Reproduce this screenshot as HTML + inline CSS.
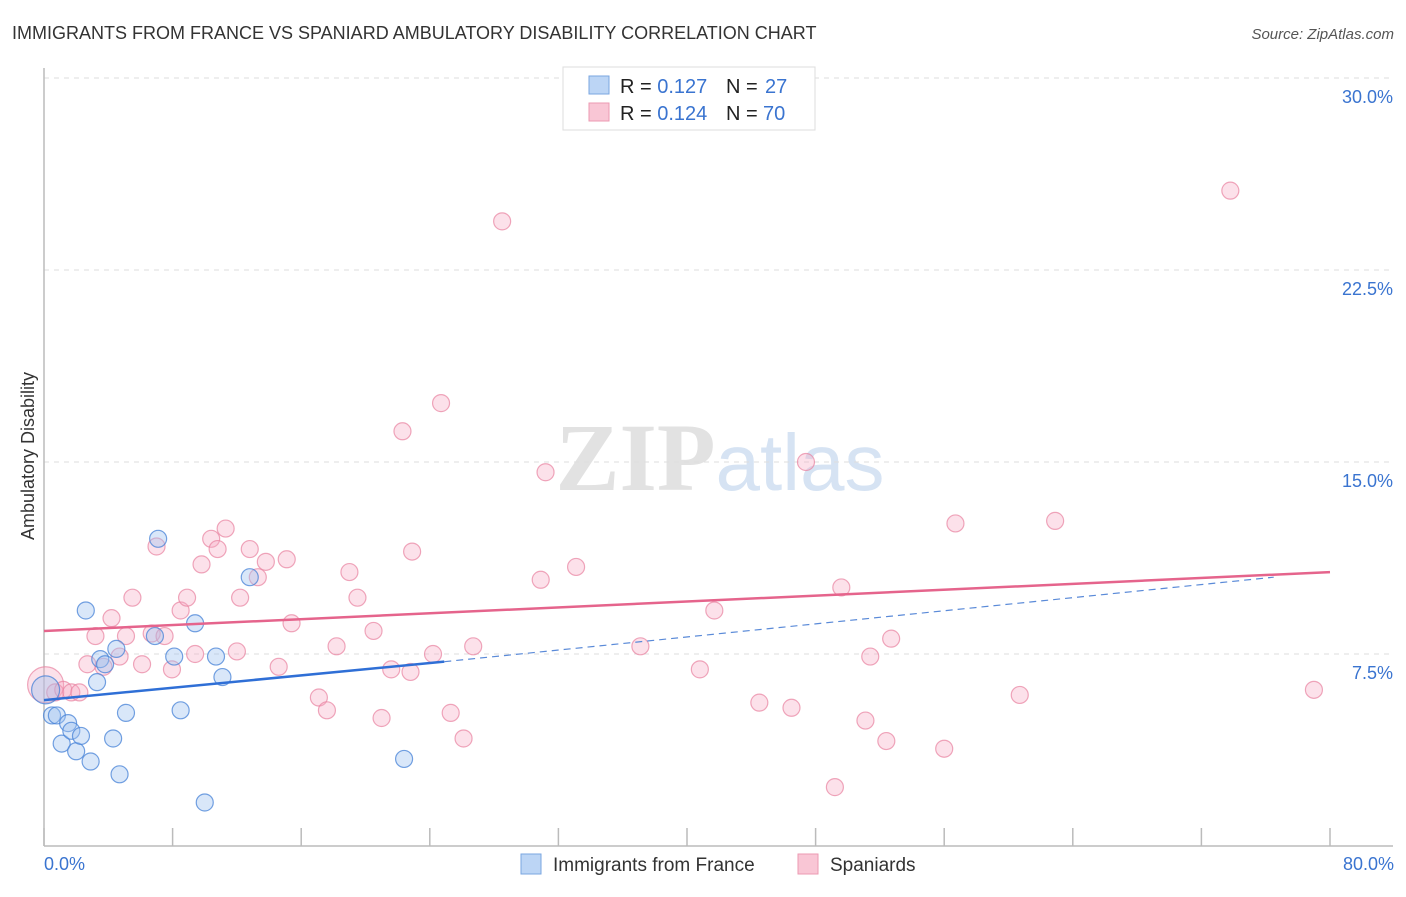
<!DOCTYPE html>
<html><head><meta charset="utf-8"><style>
body{margin:0;background:#fff;font-family:"Liberation Sans",sans-serif;}
svg text{font-family:"Liberation Sans",sans-serif;}
</style></head><body>
<svg id="chart" width="1406" height="892" xmlns="http://www.w3.org/2000/svg">
<text x="12" y="39" font-size="18" fill="#333">IMMIGRANTS FROM FRANCE VS SPANIARD AMBULATORY DISABILITY CORRELATION CHART</text>
<text x="1394" y="39" font-size="15" fill="#555" font-style="italic" text-anchor="end">Source: ZipAtlas.com</text>
<text x="720" y="490" font-size="96" fill="#e2e2e2" text-anchor="middle"><tspan font-family="Liberation Serif" font-weight="bold">ZIP</tspan><tspan fill="#d6e3f3" font-size="80">atlas</tspan></text>
<g id="grid"></g>
<line x1="44" y1="68" x2="44" y2="846" stroke="#bbb" stroke-width="1.5"/>
<line x1="44" y1="846" x2="1393" y2="846" stroke="#bbb" stroke-width="1.5"/>
<text transform="translate(34,456) rotate(-90)" font-size="18" fill="#333" text-anchor="middle">Ambulatory Disability</text>
<text x="44" y="870" font-size="18" fill="#3a74d0">0.0%</text>
<text x="1394" y="870" font-size="18" fill="#3a74d0" text-anchor="end">80.0%</text>
<g id="points"></g>
<g id="lines"></g>
<g>
<rect x="563" y="67" width="252" height="63" fill="#fff" stroke="#ddd"/>
<rect x="589" y="76" width="20" height="18" fill="#bcd5f5" stroke="#7aa6e0"/>
<rect x="589" y="103" width="20" height="18" fill="#f9c6d5" stroke="#ec9ab2"/>
<text x="620" y="93" font-size="20" fill="#222">R = <tspan fill="#3a74d0">0.127</tspan><tspan x="726">N = </tspan><tspan fill="#3a74d0" x="765">27</tspan></text>
<text x="620" y="120" font-size="20" fill="#222">R = <tspan fill="#3a74d0">0.124</tspan><tspan x="726">N = </tspan><tspan fill="#3a74d0" x="763">70</tspan></text>
</g>
<g>
<rect x="521" y="854" width="20" height="20" fill="#bcd5f5" stroke="#7aa6e0"/>
<text x="553" y="871" font-size="19" fill="#333">Immigrants from France</text>
<rect x="798" y="854" width="20" height="20" fill="#f9c6d5" stroke="#ec9ab2"/>
<text x="830" y="871" font-size="19" fill="#333">Spaniards</text>
</g>
</svg>
<script>
const yTicks=[7.5,15,22.5,30];
const xTicks=[0,8,16,24,32,40,48,56,64,72,80];
const blueX=[0.1,0.5,0.8,1.1,1.5,1.7,2.0,2.3,2.6,2.9,3.3,3.5,3.8,4.3,4.5,4.7,5.1,6.9,7.1,8.1,8.5,9.4,10.0,10.7,11.1,12.8,22.4];
const blueY=[6.1,5.1,5.1,4.0,4.8,4.5,3.7,4.3,9.2,3.3,6.4,7.3,7.1,4.2,7.7,2.8,5.2,8.2,12.0,7.4,5.3,8.7,1.7,7.4,6.6,10.5,3.4];
const pinkX=[0.1,0.7,1.2,1.7,2.2,2.7,3.2,3.7,4.2,4.7,5.1,5.5,6.1,6.7,7.0,7.5,7.96,8.5,8.9,9.4,9.8,10.4,10.8,11.3,12.0,12.2,12.8,13.3,13.8,14.6,15.1,15.4,17.1,17.6,18.2,19.0,19.5,20.5,21.0,21.6,22.3,22.8,22.9,24.2,24.7,25.3,26.1,26.7,28.5,30.9,31.2,33.1,37.1,40.8,41.7,44.5,46.5,47.4,49.2,49.6,51.1,51.4,52.4,52.7,56.0,56.7,60.7,62.9,73.8,79.0];
const pinkY=[6.3,6.0,6.1,6.0,6.0,7.1,8.2,7.0,8.9,7.4,8.2,9.7,7.1,8.3,11.7,8.2,6.9,9.2,9.7,7.5,11.0,12.0,11.6,12.4,7.6,9.7,11.6,10.5,11.1,7.0,11.2,8.7,5.8,5.3,7.8,10.7,9.7,8.4,5.0,6.9,16.2,6.8,11.5,7.5,17.3,5.2,4.2,7.8,24.4,10.4,14.6,10.9,7.8,6.9,9.2,5.6,5.4,15.0,2.3,10.1,4.9,7.4,4.1,8.1,3.8,12.6,5.9,12.7,25.6,6.1];
const blueTrend=[[0,5.7],[24.9,7.2],[76.5,10.5]];
const pinkTrend=[[0,8.4],[80,10.7]];
const X=v=>44+v*(1286/80), Y=v=>846-v*25.6;
const NS='http://www.w3.org/2000/svg';
function mk(t,a,p){const e=document.createElementNS(NS,t);for(const k in a)e.setAttribute(k,a[k]);p.appendChild(e);return e;}
const grid=document.getElementById('grid');
yTicks.forEach(v=>{
 const l=mk('line',{x1:44,x2:1393,y1:Y(v),y2:Y(v),stroke:'#ddd','stroke-dasharray':'5,5'},grid);
 
 
 const t=mk('text',{x:1393,y:Y(v)+25,'font-size':18,fill:'#3a74d0','text-anchor':'end'},grid);
 t.textContent=v.toFixed(1)+'%';
 
 
});
xTicks.forEach(v=>{
 const l=mk('line',{x1:X(v),x2:X(v),y1:828,y2:846,stroke:'#bbb','stroke-width':1.5},grid);
 
 
});
const pts=document.getElementById('points');
pinkX.forEach((v,i)=>{
 const c=mk('circle',{cx:X(v),cy:Y(pinkY[i]),r:i==0?18:8.5,fill:'rgba(246,170,195,0.35)',stroke:'rgba(232,130,160,0.7)','stroke-width':1.2},pts);
 
 
});
blueX.forEach((v,i)=>{
 const c=mk('circle',{cx:X(v),cy:Y(blueY[i]),r:i==0?14:8.5,fill:'rgba(160,195,240,0.4)',stroke:'rgba(70,130,215,0.75)','stroke-width':1.2},pts);
 
 
});
const ln=document.getElementById('lines');
const b1=mk('line',{x1:X(blueTrend[0][0]),y1:Y(blueTrend[0][1]),x2:X(blueTrend[1][0]),y2:Y(blueTrend[1][1]),stroke:'#2f6fd6','stroke-width':2.5},ln);


const b2=mk('line',{x1:X(blueTrend[1][0]),y1:Y(blueTrend[1][1]),x2:X(blueTrend[2][0]),y2:Y(blueTrend[2][1]),stroke:'#5a8ad8','stroke-width':1.2,'stroke-dasharray':'7,5'},ln);


const p1=mk('line',{x1:X(pinkTrend[0][0]),y1:Y(pinkTrend[0][1]),x2:X(pinkTrend[1][0]),y2:Y(pinkTrend[1][1]),stroke:'#e5648c','stroke-width':2.5},ln);


</script>
</body></html>
